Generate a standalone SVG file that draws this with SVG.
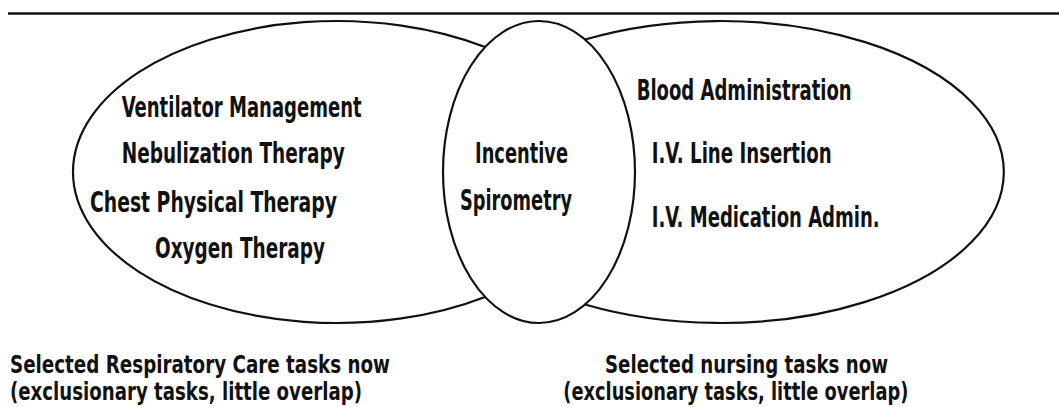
<svg xmlns="http://www.w3.org/2000/svg" width="1059" height="407" viewBox="0 0 1059 407">
  <style>
    .shape { fill: none; stroke: #111; stroke-width: 2.2; }
    .t { font-family: "Liberation Sans Narrow", "DejaVu Sans Condensed", "Liberation Sans", sans-serif; font-weight: bold; font-size: 28px; fill: #111; }
    .c { font-family: "Liberation Sans Narrow", "DejaVu Sans Condensed", "Liberation Sans", sans-serif; font-weight: bold; font-size: 24px; fill: #111; }
  </style>
  <rect width="1059" height="407" fill="#fff"/>
  <line x1="8" y1="13.5" x2="1059" y2="13.5" stroke="#111" stroke-width="2.5"/>

  <g id="respiratory">
    <path class="shape" d="M 485.1 47 A 264 151 0 1 0 485.1 297"/>
    <text class="t" x="121.7" y="116.7" textLength="240" lengthAdjust="spacingAndGlyphs">Ventilator Management</text>
    <text class="t" x="121.7" y="163.3" textLength="223" lengthAdjust="spacingAndGlyphs">Nebulization Therapy</text>
    <text class="t" x="90" y="211.7" textLength="247" lengthAdjust="spacingAndGlyphs">Chest Physical Therapy</text>
    <text class="t" x="155" y="258.3" textLength="170" lengthAdjust="spacingAndGlyphs">Oxygen Therapy</text>
  </g>

  <g id="nursing">
    <path class="shape" d="M 585.1 39.5 A 283 151 0 1 1 585.1 304.5"/>
    <text class="t" x="636.7" y="100" textLength="215" lengthAdjust="spacingAndGlyphs">Blood Administration</text>
    <text class="t" x="651.7" y="163.3" textLength="180" lengthAdjust="spacingAndGlyphs">I.V. Line Insertion</text>
    <text class="t" x="651.7" y="226.7" textLength="228" lengthAdjust="spacingAndGlyphs">I.V. Medication Admin.</text>
  </g>

  <g id="overlap">
    <ellipse class="shape" cx="539" cy="172" rx="96" ry="151"/>
    <text class="t" x="475" y="163.3" textLength="93" lengthAdjust="spacingAndGlyphs">Incentive</text>
    <text class="t" x="460" y="210" textLength="112" lengthAdjust="spacingAndGlyphs">Spirometry</text>
  </g>

  <g id="caption-left">
    <text class="c" x="10" y="373" textLength="380" lengthAdjust="spacingAndGlyphs">Selected Respiratory Care tasks now</text>
    <text class="c" x="10" y="400" textLength="352" lengthAdjust="spacingAndGlyphs">(exclusionary tasks, little overlap)</text>
  </g>

  <g id="caption-right">
    <text class="c" x="605" y="373" textLength="283" lengthAdjust="spacingAndGlyphs">Selected nursing tasks now</text>
    <text class="c" x="563.3" y="400" textLength="345" lengthAdjust="spacingAndGlyphs">(exclusionary tasks, little overlap)</text>
  </g>

  <g id="connectors"></g>
</svg>
